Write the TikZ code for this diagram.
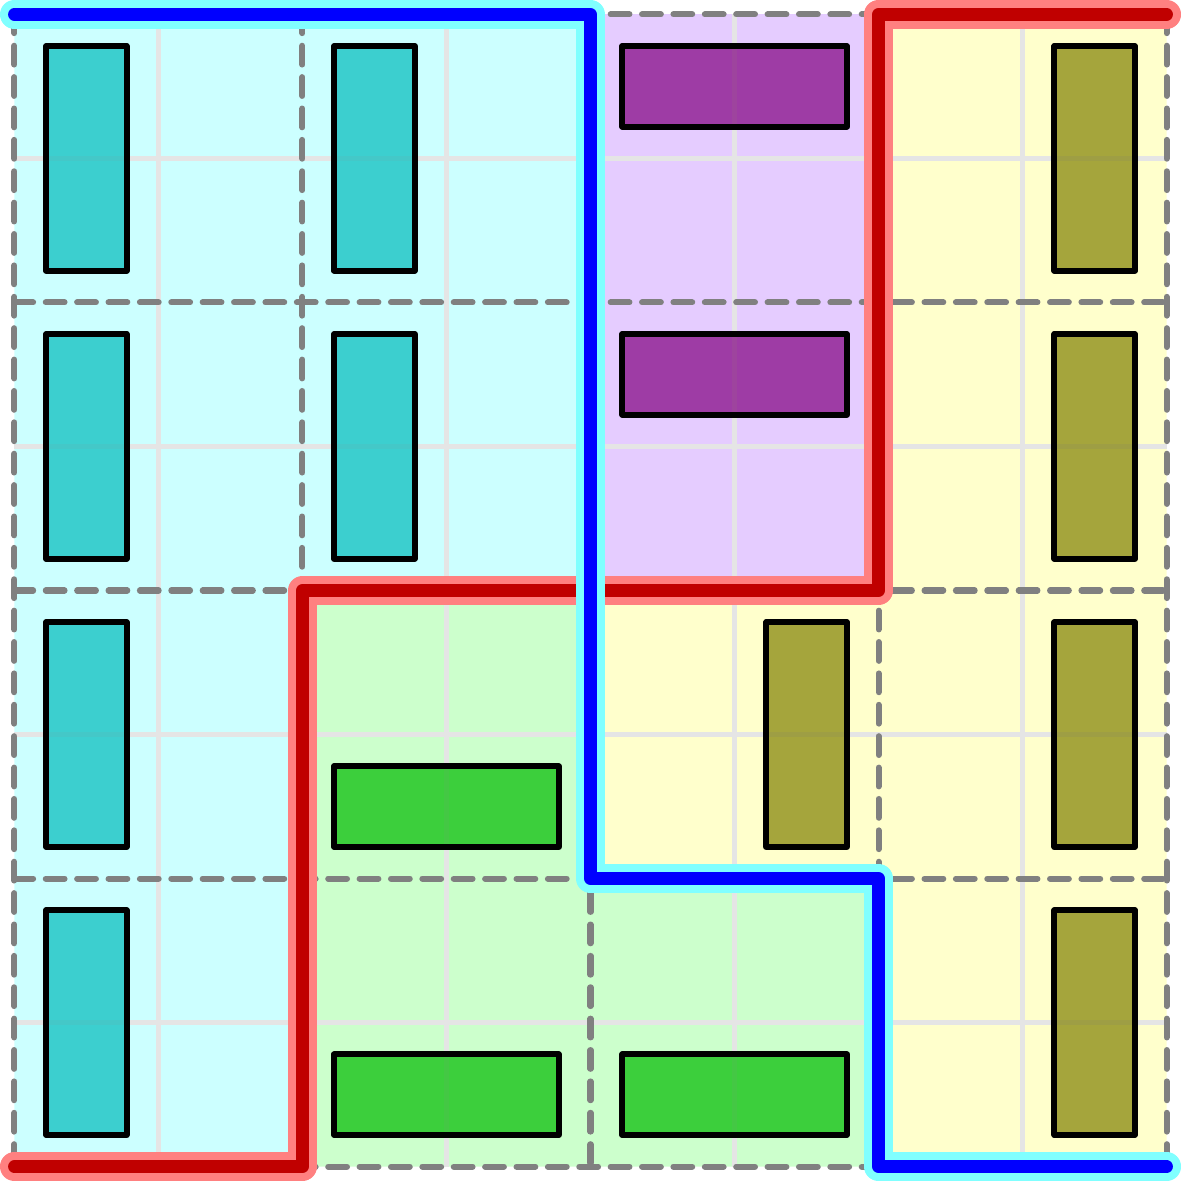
\documentclass[tikz,border=0pt]{standalone}
\usepackage{xcolor}
\usepackage{tikz}
\definecolor{ZoneCyan}{HTML}{CCFFFF}
\definecolor{ZoneViolet}{HTML}{E5CCFF}
\definecolor{ZoneYellow}{HTML}{FFFFCC}
\definecolor{ZoneGreen}{HTML}{CCFFCC}
\definecolor{CutBlue}{HTML}{0000FF}
\definecolor{CutBlueHalo}{HTML}{80FFFF}
\definecolor{CutRed}{HTML}{C00000}
\definecolor{CutRedHalo}{HTML}{FF8080}
\definecolor{ItemCyan}{HTML}{00BCBC}
\definecolor{ItemViolet}{HTML}{800080}
\definecolor{ItemOlive}{HTML}{808000}
\definecolor{ItemGreen}{HTML}{00BC00}

\begin{document}
\begin{tikzpicture}[y=-1cm,
    fine/.style={gray!20,line width=0.9pt},
    cellline/.style={gray,line width=1.2pt,line cap=round,dash pattern=on 3.7pt off 2.5pt},
    item/.style={draw=black,line width=1.1pt,line join=round,fill opacity=0.7},
    halo/.style={line width=5.7pt,line cap=round,line join=round},
    cut/.style={line width=2.5pt,line cap=round,line join=round}]
  \useasboundingbox (-0.1,-0.1) rectangle (8.1,8.1);
  % zones
  \fill[ZoneCyan] (0,0) -- (4,0) -- (4,4) -- (2,4) -- (2,8) -- (0,8) -- cycle;
  \fill[ZoneViolet] (4,0) rectangle (6,4);
  \fill[ZoneYellow] (6,0) -- (8,0) -- (8,8) -- (6,8) -- (6,6) -- (4,6) -- (4,4) -- (6,4) -- cycle;
  \fill[ZoneGreen] (2,4) -- (4,4) -- (4,6) -- (6,6) -- (6,8) -- (2,8) -- cycle;
  % grid
  \foreach \k in {1,3,5,7}
    \draw[fine] (\k,0) -- (\k,8) (0,\k) -- (8,\k);
  \foreach \k in {0,2,4,6,8}
    \draw[cellline] (\k,0) -- (\k,8) (0,\k) -- (8,\k);
  % items
  \foreach \x/\y in {0/0,0/2,0/4,0/6,2/0,2/2}
    \draw[item,fill=ItemCyan] (\x+0.22,\y+0.22) rectangle (\x+0.78,\y+1.78);
  \foreach \x/\y in {7/0,7/2,7/4,7/6,5/4}
    \draw[item,fill=ItemOlive] (\x+0.22,\y+0.22) rectangle (\x+0.78,\y+1.78);
  \foreach \x/\y in {4/0,4/2}
    \draw[item,fill=ItemViolet] (\x+0.22,\y+0.22) rectangle (\x+1.78,\y+0.78);
  \foreach \x/\y in {2/5,2/7,4/7}
    \draw[item,fill=ItemGreen] (\x+0.22,\y+0.22) rectangle (\x+1.78,\y+0.78);
  % cuts
  \draw[halo,CutRedHalo] (0,8) -- (2,8) -- (2,4) -- (6,4) -- (6,0) -- (8,0);
  \draw[cut,CutRed] (0,8) -- (2,8) -- (2,4) -- (6,4) -- (6,0) -- (8,0);
  \draw[halo,CutBlueHalo] (0,0) -- (4,0) -- (4,6) -- (6,6) -- (6,8) -- (8,8);
  \draw[cut,CutBlue] (0,0) -- (4,0) -- (4,6) -- (6,6) -- (6,8) -- (8,8);
\end{tikzpicture}
\end{document}
